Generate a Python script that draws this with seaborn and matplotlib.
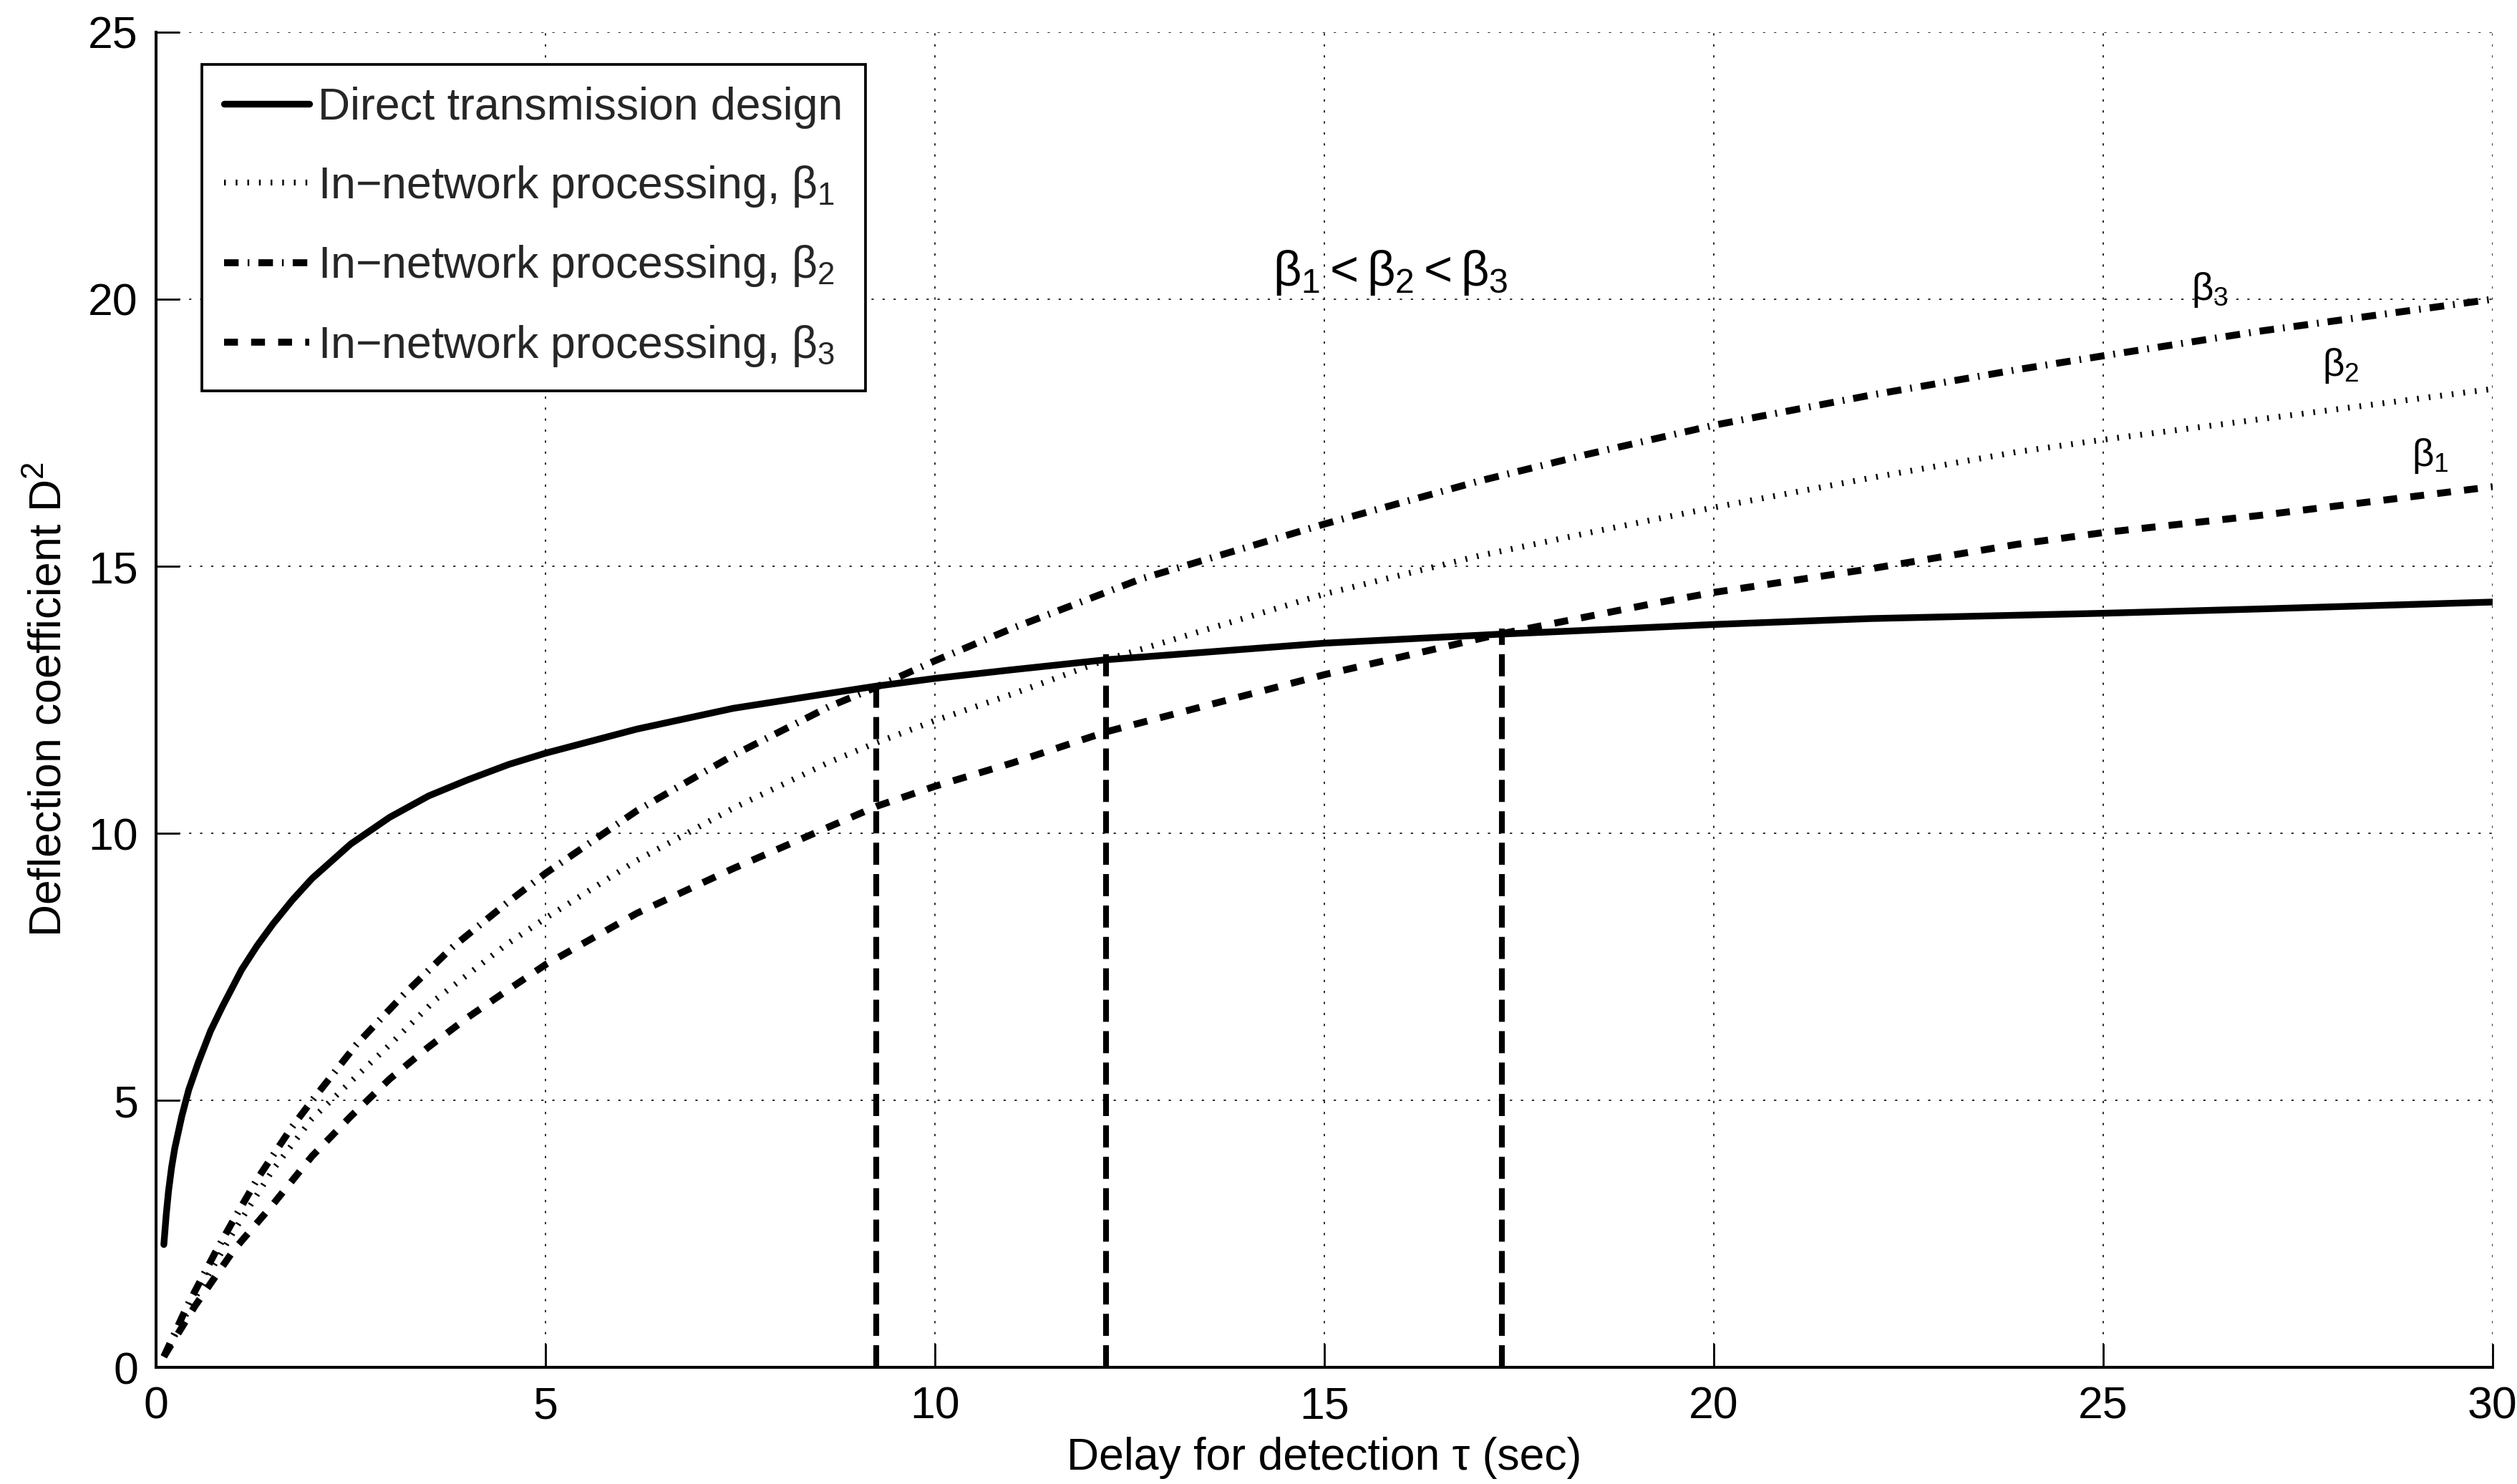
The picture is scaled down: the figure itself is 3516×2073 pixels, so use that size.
import numpy as np
import pandas as pd
import matplotlib
matplotlib.use("Agg")
import matplotlib.pyplot as plt
import seaborn as sns

# ---------------- data ----------------
direct_x = [0.1, 0.13, 0.16, 0.2, 0.24, 0.33, 0.42, 0.54, 0.7, 0.85, 1.1, 1.3, 1.5, 1.75,
            2.0, 2.5, 3.0, 3.5, 4.0, 4.53, 5.0, 6.17, 7.41, 8.64, 9.22, 10.0, 10.98, 12.2,
            15.0, 17.28, 18.36, 20.0, 22.0, 25.0, 27.0, 30.0]
direct_y = [2.3, 2.85, 3.3, 3.75, 4.1, 4.7, 5.2, 5.7, 6.3, 6.75, 7.45, 7.9, 8.3, 8.75,
            9.15, 9.8, 10.3, 10.7, 11.0, 11.29, 11.5, 11.95, 12.34, 12.62, 12.75, 12.9, 13.06, 13.25,
            13.56, 13.73, 13.8, 13.91, 14.02, 14.12, 14.2, 14.33]

b1_x = [0.1, 0.5, 1.0, 1.5, 2.0, 2.5, 3.0, 3.6, 4.5, 5.0, 6.17, 7.41, 8.64, 9.22, 10.0,
        10.98, 12.2, 15.0, 17.0, 18.47, 20.0, 22.0, 23.89, 25.0, 27.0, 30.0]
b1_y = [0.2, 1.3, 2.55, 3.7, 4.65, 5.35, 6.04, 6.9, 7.92, 8.41, 9.49, 10.47, 11.33, 11.68, 12.11,
        12.6, 13.25, 14.48, 15.2, 15.65, 16.1, 16.65, 17.14, 17.37, 17.75, 18.32]

b2_x = [0.1, 0.4, 0.76, 1.03, 1.31, 1.74, 2.0, 2.57, 3.18, 3.8, 4.5, 5.0, 6.17, 7.41, 8.64,
        9.22, 10.0, 10.98, 12.64, 15.0, 17.0, 18.36, 20.0, 22.0, 23.89, 25.0, 27.0, 30.0]
b2_y = [0.2, 1.15, 2.15, 2.85, 3.55, 4.49, 4.99, 6.04, 6.98, 7.86, 8.69, 9.25, 10.42, 11.46, 12.37,
        12.72, 13.23, 13.83, 14.76, 15.79, 16.6, 17.09, 17.64, 18.2, 18.68, 18.94, 19.4, 20.0]

b3_x = [0.1, 0.5, 1.0, 1.5, 2.0, 2.5, 3.0, 3.5, 4.0, 4.5, 5.0, 6.17, 7.41, 8.64, 9.26, 10.0,
        11.0, 12.2, 15.0, 17.25, 19.25, 20.0, 22.0, 23.89, 25.0, 27.0, 30.0]
b3_y = [0.2, 1.15, 2.2, 3.05, 3.95, 4.7, 5.4, 6.0, 6.55, 7.05, 7.54, 8.5, 9.34, 10.12, 10.51, 10.88,
        11.32, 11.9, 12.97, 13.73, 14.31, 14.51, 14.95, 15.41, 15.63, 15.95, 16.49]

vline_x = [9.25, 12.2, 17.28]
vline_top = [12.93, 13.39, 13.83]

labels = ["Direct transmission design",
          r"In$-$network processing, $\beta_1$",
          r"In$-$network processing, $\beta_2$",
          r"In$-$network processing, $\beta_3$"]

curve_label_text = [r"$\beta_3$", r"$\beta_2$", r"$\beta_1$"]
curve_label_x = [26.37, 28.05, 29.2]
curve_label_y = [20.18, 18.76, 17.06]

x_ticks = [0, 5, 10, 15, 20, 25, 30]
y_ticks = [0, 5, 10, 15, 20, 25]

# ---------------- style ----------------
sns.set_theme(style="white")
plt.rcParams["font.family"] = ["Liberation Sans", "DejaVu Sans"]
plt.rcParams["mathtext.fontset"] = "custom"
plt.rcParams["mathtext.rm"] = "Liberation Sans"
plt.rcParams["mathtext.it"] = "Liberation Sans"
plt.rcParams["mathtext.bf"] = "Liberation Sans:bold"

fig = plt.figure(figsize=(3516 / 225, 2073 / 225), dpi=225)
ax = fig.add_axes([0.0620, 0.0786, 0.9283, 0.8997])

series = [
    (direct_x, direct_y, "-", 3.0),
    (b1_x, b1_y, (0, (0.3, 1.7)), 2.6),
    (b2_x, b2_y, (0, (2.1, 1.3, 0.25, 1.3)), 3.1),
    (b3_x, b3_y, (0, (2.0, 1.9)), 3.1),
]

handles = []
for (xs, ys, ls, lw), lab in zip(series, labels):
    df = pd.DataFrame({"tau": xs, "D2": ys})
    sns.lineplot(data=df, x="tau", y="D2", ax=ax, color="black", linewidth=lw,
                 linestyle=ls, label=lab, sort=True, estimator=None)
    line = ax.get_lines()[-1]
    line.set_dash_capstyle("butt")
    line.set_solid_joinstyle("round")
    handles.append(line)

for vx, vt in zip(vline_x, vline_top):
    ax.plot([vx, vx], [0, vt], color="black", linewidth=2.6,
            linestyle=(0, (3.8, 1.6)), dash_capstyle="butt")

for t, tx, ty in zip(curve_label_text, curve_label_x, curve_label_y):
    ax.text(tx, ty, t, fontsize=17, ha="center", va="center", color="black")

ax.text(15.85, 20.5, r"$\beta_1 < \beta_2 < \beta_3$", fontsize=22,
        ha="center", va="center", color="black")

ax.set_xlim(0, 30)
ax.set_ylim(0, 25)
ax.set_xticks(x_ticks)
ax.set_yticks(y_ticks)
ax.set_xticklabels([str(v) for v in x_ticks])
ax.set_yticklabels([str(v) for v in y_ticks])

ax.grid(True, color="#222222", linewidth=0.6, linestyle=(0, (1.7, 6.5)))
ax.set_axisbelow(True)

for s in ["top", "right"]:
    ax.spines[s].set_visible(False)
for s in ["left", "bottom"]:
    ax.spines[s].set_color("black")
    ax.spines[s].set_linewidth(1.3)

ax.tick_params(axis="both", direction="in", length=10.5, width=0.9, color="black",
               labelsize=20, labelcolor="black", pad=8,
               bottom=True, left=True, top=False, right=False)

ax.set_xlabel("Delay for detection τ (sec)", fontsize=20, color="black", labelpad=4)
ax.set_ylabel(r"Deflection coefficient D$^2$", fontsize=20, color="black", labelpad=8)

leg = ax.legend(handles=handles, labels=labels, loc="upper left",
                bbox_to_anchor=(0.0196, 0.976), fontsize=20, frameon=True,
                fancybox=False, framealpha=1, edgecolor="black",
                handlelength=1.9, handletextpad=0.2, labelspacing=0.78,
                borderpad=0.5, borderaxespad=0)
leg.get_frame().set_linewidth(1.2)

fig.savefig("out.png", dpi=225, facecolor="white")
